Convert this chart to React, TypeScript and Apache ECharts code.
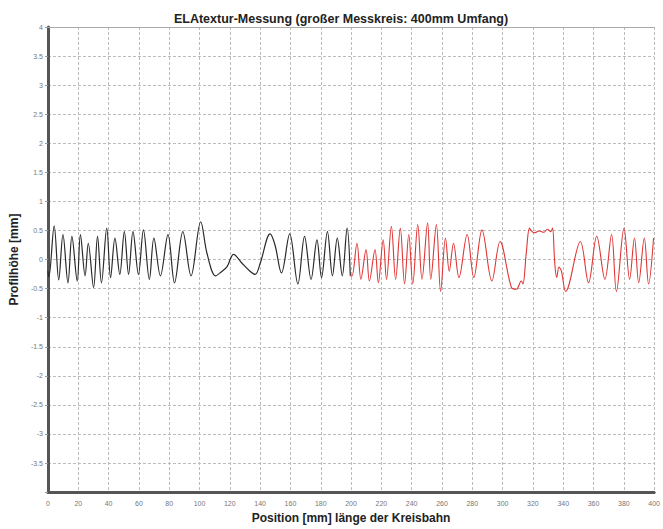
import React, { useEffect, useRef } from "react";
import * as echarts from "echarts";

const titleText = "ELAtextur-Messung (großer Messkreis: 400mm Umfang)";
const xName = "Position [mm] länge der Kreisbahn";
const yName = "Profilhöhe [mm]";

const blackPos = [
  0, 0.6, 4.1, 7.1, 9.9, 13.2, 15.8, 19.3, 21.4, 24.5, 26.6, 30.1, 32.7, 35.3, 38.8, 41.3, 44.2, 47.4,
  50.4, 53.2, 56.1, 59.7, 63.0, 66.9, 69.9, 74.2, 79.2, 83.5, 89, 94.4, 100.8, 105, 110.6, 114, 118.2,
  122.5, 127.9, 133.3, 136.8, 140.1, 146.6, 149.8, 154.1, 159.5, 164.9, 169.3, 173.6, 177.5, 180.5,
  184.4, 187.7, 190.9, 194.2, 197.4, 199.5,
];
const blackVal = [
  -0.2, -0.3, 0.58, -0.35, 0.43, -0.4, 0.4, -0.37, 0.43, -0.28, 0.28, -0.48, 0.4, -0.4, 0.54, -0.31, 0.37, -0.255,
  0.48, -0.255, 0.48, -0.255, 0.51, -0.34, 0.37, -0.28, 0.43, -0.4, 0.48, -0.28, 0.65, 0.1, -0.28, -0.22, -0.12,
  0.09, -0.06, -0.2, -0.255, -0.06, 0.44, 0.25, -0.23, 0.44, -0.42, 0.4, -0.34, 0.34, -0.31,
  0.48, -0.28, 0.37, -0.28, 0.54, -0.28,
];

const redPos = [
  199.5, 200.6, 203.9, 206.5, 209.9, 212.1, 215.8, 218, 221.2, 223.4, 226.6, 229.4, 232.5, 235.3, 238.1,
  240.7, 244, 246.8, 250.5, 252.6, 256.3, 259.1, 262.3, 264.8, 267.6, 271.2, 276.6, 281, 286.4, 292.9,
  298.3, 305.8, 309.1, 312.3, 313.4, 315.6, 317.7, 318.8, 321, 324, 327.3, 329.5, 331.8, 332.9, 334.4,
  335.7, 337.2, 338.8, 341.6, 351.3, 356.7, 362.1, 367.5, 371.9, 375.1, 380.1, 383.8, 387, 389.8, 393.5,
  396.3, 399.6,
];
const redVal = [
  -0.28, -0.28, 0.28, -0.34, 0.17, -0.37, 0.17, -0.4, 0.34, -0.34, 0.57, -0.34, 0.54, -0.42, 0.43,
  -0.42, 0.6, -0.34, 0.63, -0.34, 0.6, -0.55, 0.37, -0.2, 0.28, -0.31, 0.43, -0.31, 0.51, -0.37,
  0.31, -0.48, -0.51, -0.37, -0.42, 0.11, 0.54, 0.5, 0.46, 0.49, 0.47, 0.52, 0.48, 0.54, -0.06,
  -0.31, -0.13, -0.2, -0.55, 0.31, -0.4, 0.4, -0.34, 0.43, -0.55, 0.54, -0.34, 0.37, -0.4, 0.37,
  -0.42, 0.37,
];

const zip = (xs: number[], ys: number[]) => xs.map((x, i) => [x, ys[i]]);

export default function App() {
  const ref = useRef<HTMLDivElement>(null);
  useEffect(() => {
    if (!ref.current) return;
    const chart = echarts.init(ref.current, null, { renderer: "svg" });
    const font = "'Liberation Sans', Arial, sans-serif";
    chart.setOption({
      animation: false,
      backgroundColor: "#ffffff",
      title: {
        text: titleText,
        left: 336,
        top: 7,
        textAlign: "center",
        textStyle: { fontFamily: font, fontSize: 12.5, fontWeight: "bold", color: "#222" },
      },
      grid: { left: 41, right: 5, top: 27, bottom: 32 },
      xAxis: [
        {
          type: "value",
          min: 0,
          max: 400,
          interval: 20,
          name: xName,
          nameLocation: "middle",
          nameGap: 19,
          nameTextStyle: { fontFamily: font, fontSize: 12, fontWeight: "bold", color: "#222" },
          axisLine: { show: true, onZero: false, lineStyle: { color: "#555", width: 3 } },
          axisTick: { show: false },
          axisLabel: { fontFamily: font, fontSize: 7, color: "#777", margin: 8 },
          splitLine: { show: true, lineStyle: { color: "#bbbbbb", type: [3, 2], width: 1 } },
        },
        {
          type: "value",
          position: "top",
          min: 0,
          max: 400,
          axisLine: { show: true, onZero: false, lineStyle: { color: "#aaa", width: 1 } },
          axisTick: { show: false },
          axisLabel: { show: false },
          splitLine: { show: false },
        },
      ],
      yAxis: {
        type: "value",
        min: -4,
        max: 4,
        interval: 0.5,
        name: yName,
        nameLocation: "middle",
        nameGap: 20,
        nameTextStyle: { fontFamily: font, fontSize: 12, fontWeight: "bold", color: "#222" },
        axisLine: { show: true, onZero: false, lineStyle: { color: "#555", width: 3 } },
        axisTick: { show: true, length: 3, lineStyle: { color: "#999" } },
        axisLabel: {
          fontFamily: font,
          fontSize: 7,
          color: "#777",
          margin: 5,
          formatter: (v: number) => (v === -4 ? "" : String(v)),
        },
        splitLine: { show: true, lineStyle: { color: "#bbbbbb", type: [3, 2], width: 1 } },
      },
      series: [
        {
          type: "line",
          data: zip(blackPos, blackVal),
          showSymbol: false,
          smooth: 0.35,
          lineStyle: { color: "#2a2a2a", width: 1.2 },
          itemStyle: { color: "#2a2a2a" },
        },
        {
          type: "line",
          data: zip(redPos, redVal),
          showSymbol: false,
          smooth: 0.35,
          lineStyle: { color: "#e03535", width: 1.1 },
          itemStyle: { color: "#e03535" },
        },
      ],
    });
    return () => chart.dispose();
  }, []);
  return (
    <div
      ref={ref}
      style={{ position: "fixed", left: 0, top: 0, width: 663, height: 529, background: "#fff" }}
    />
  );
}
